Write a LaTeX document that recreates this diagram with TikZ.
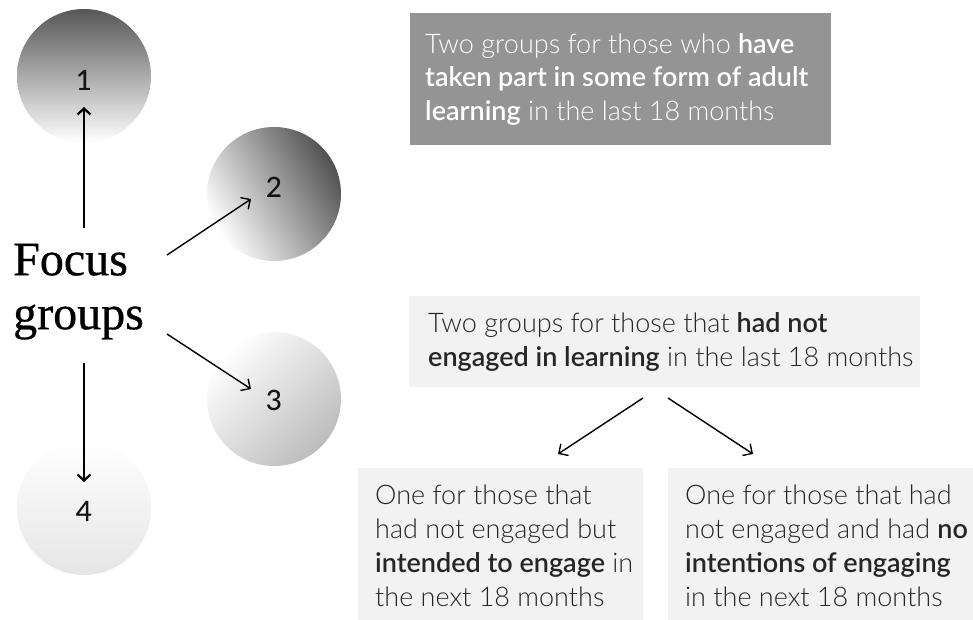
\documentclass[tikz,border=0pt]{standalone}
\usepackage{fontspec}
\setmainfont{Lato}[UprightFont={* Light},BoldFont={* Semibold}]
\newfontfamily\numfont{Lato Medium}
\newfontfamily\seriffont{Liberation Serif}[FakeBold=0.6]
\usetikzlibrary{arrows.meta}
\begin{document}
\begin{tikzpicture}[x=1pt,y=-1pt,
  bubble/.style={circle,minimum size=134pt,inner sep=0pt,draw=none},
  numlabel/.style={inner sep=0pt,font=\numfont\fontsize{28}{32}\selectfont,text=black!92},
  thickarrow/.style={line width=2.2pt,-{Straight Barb[length=6pt,width=13pt]}},
  thinarrow/.style={line width=1.4pt,-{Straight Barb[length=7pt,width=14pt]}},
  darkbox/.style={fill=black!42,draw=none,inner sep=0pt,anchor=north west},
  lightbox/.style={fill=black!5,draw=none,inner sep=0pt,anchor=north west},
  boxtext/.style={inner sep=0pt,anchor=north west,align=left,font=\fontsize{27}{34}\selectfont},
]
\useasboundingbox (0,0) rectangle (973,619);

% circles
\node[bubble,top color=black!66,bottom color=white] (c1) at (84,76) {};
\node[bubble,top color=black!68,bottom color=white,shading angle=-60] (c2) at (274,194) {};
\node[bubble,top color=white,bottom color=black!26,shading angle=45] (c3) at (274,399) {};
\node[bubble,top color=white,bottom color=black!10] (c4) at (84,508) {};

\node[numlabel] (n1) at (84,80) {1};
\node[numlabel] (n2) at (274,187) {2};
\node[numlabel] (n3) at (274,400) {3};
\node[numlabel] (n4) at (84,511) {4};

% focus groups
\node[inner sep=0pt,anchor=north west,align=left,font=\seriffont\fontsize{48}{54}\selectfont] (fg) at (13,235)
  {\rule{0pt}{40pt}Focus\\groups};

% arrows from focus groups
\coordinate (a1s) at (84,228);  \coordinate (a1e) at (84,107);
\coordinate (a2s) at (167,255); \coordinate (a2e) at (251,199);
\coordinate (a3s) at (167,334); \coordinate (a3e) at (251,389);
\coordinate (a4s) at (84,363);  \coordinate (a4e) at (84,482);
\draw[thickarrow] (a1s) -- (a1e);
\draw[thinarrow] (a2s) -- (a2e);
\draw[thinarrow] (a3s) -- (a3e);
\draw[thickarrow] (a4s) -- (a4e);

% boxes
\node[darkbox,minimum width=421pt,minimum height=132pt] (box1) at (410,13) {};
\node[boxtext,text=white,font=\fontsize{27}{33.5}\selectfont] (t1) at (425,31)
  {\rule{0pt}{22pt}Two groups for those who \textbf{have}\\
   \textbf{taken part in some form of adult}\\
   \textbf{learning} in the last 18 months};

\node[lightbox,minimum width=511pt,minimum height=91pt] (box2) at (409,296) {};
\node[boxtext,text=black!85] (t2) at (428,310)
  {\rule{0pt}{22pt}Two groups for those that \textbf{had not}\\
   \textbf{engaged in learning} in the last 18 months};

\node[lightbox,minimum width=285pt,minimum height=160pt] (box3) at (358,468) {};
\node[boxtext,text=black!85] (t3) at (375,482)
  {\rule{0pt}{22pt}One for those that\\
   had not engaged but\\
   \textbf{intended to engage} in\\
   the next 18 months};

\node[lightbox,minimum width=310pt,minimum height=160pt] (box4) at (668,468) {};
\node[boxtext,text=black!85] (t4) at (685,482)
  {\rule{0pt}{22pt}One for those that had\\
   not engaged and had \textbf{no}\\
   \textbf{intentions of engaging}\\
   in the next 18 months};

% arrows from box2
\coordinate (b1s) at (643,398); \coordinate (b1e) at (558,454);
\coordinate (b2s) at (668,398); \coordinate (b2e) at (753,454);
\draw[thinarrow] (b1s) -- (b1e);
\draw[thinarrow] (b2s) -- (b2e);
\end{tikzpicture}
\end{document}
